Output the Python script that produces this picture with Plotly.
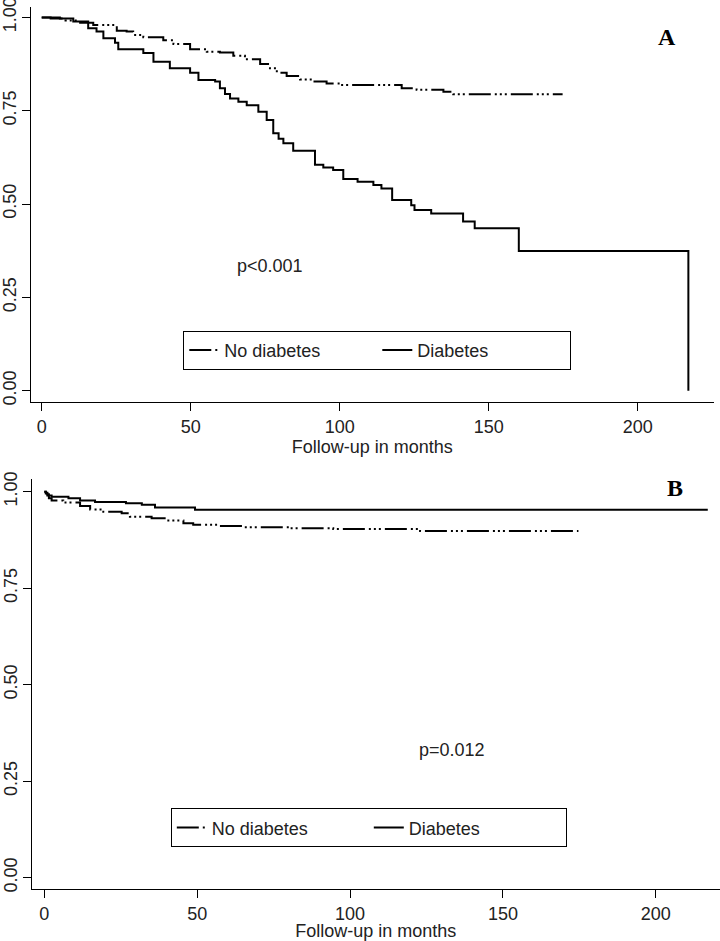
import plotly.graph_objects as go

# ---------------- Data ----------------
# Panel A
a_nodm_t = [0, 3, 8, 12.9, 17.3, 25.2, 28.5, 30.7, 34.1, 40.8, 44.2, 49.8, 55.4, 59.8,
            64.3, 68.2, 73.3, 76.6, 78.9, 82.2, 86.7, 91.1, 95.6, 100.1, 120.8, 125.8,
            134.8, 138.1, 174.8]
a_nodm_s = [1.0, 0.997, 0.992, 0.986, 0.980, 0.964, 0.962, 0.953, 0.947, 0.939, 0.929,
            0.915, 0.908, 0.906, 0.897, 0.888, 0.875, 0.864, 0.852, 0.843, 0.834, 0.828,
            0.823, 0.819, 0.810, 0.806, 0.801, 0.794, 0.794]

a_dm_t = [0, 6.1, 10.6, 15.6, 18.4, 20.7, 24.6, 25.7, 34.1, 37.5, 43.0, 49.8, 52.6, 58.2,
          59.8, 61.5, 63.2, 66.0, 68.8, 72.7, 75.5, 77.7, 79.5, 81.1, 84.4, 91.7, 94.5,
          97.8, 101.2, 106.0, 111.3, 114.0, 117.6, 124.0, 125.1, 130.7, 141.4, 145.3,
          160.1, 217.0]
a_dm_s = [1.0, 0.997, 0.989, 0.971, 0.962, 0.944, 0.932, 0.915, 0.905, 0.881, 0.864,
          0.852, 0.832, 0.828, 0.810, 0.795, 0.783, 0.774, 0.765, 0.747, 0.725, 0.690,
          0.675, 0.663, 0.643, 0.605, 0.598, 0.591, 0.567, 0.560, 0.551, 0.542, 0.511,
          0.497, 0.484, 0.475, 0.453, 0.435, 0.374, 0.0]

# Panel B
b_nodm_t = [0, 0.5, 1, 1.5, 2.4, 6.2, 11.7, 15.0, 19.3, 25.3, 28.0, 35.1, 40.0, 45.5,
            48.7, 57.0, 65.1, 80.0, 94.5, 122.9, 174.7]
b_nodm_s = [1.0, 0.995, 0.990, 0.983, 0.977, 0.972, 0.963, 0.954, 0.948, 0.944, 0.935,
            0.931, 0.925, 0.918, 0.914, 0.911, 0.908, 0.905, 0.903, 0.898, 0.898]

b_dm_t = [0, 0.5, 1, 1.5, 2.4, 7.9, 11.7, 16.6, 26.7, 31.9, 36.2, 49.3, 217.0]
b_dm_s = [1.0, 0.997, 0.993, 0.990, 0.987, 0.983, 0.977, 0.973, 0.970, 0.966, 0.959,
          0.953, 0.953]

x_ticks = [0, 50, 100, 150, 200]
y_ticks = [0, 0.25, 0.5, 0.75, 1.0]
y_tick_text = ["0.00", "0.25", "0.50", "0.75", "1.00"]
series_names = ["No diabetes", "Diabetes"]
x_title = "Follow-up in months"

# ---------------- Figure ----------------
FONT = "Liberation Sans, Arial, sans-serif"
DASH = "22px,4px,2px,3px,2px,3px,2px,4px"

fig = go.Figure()

fig.add_trace(go.Scatter(x=a_nodm_t, y=a_nodm_s, mode="lines", line_shape="hv",
                         name=series_names[0], line=dict(color="black", width=2, dash=DASH),
                         xaxis="x", yaxis="y", legend="legend"))
fig.add_trace(go.Scatter(x=a_dm_t, y=a_dm_s, mode="lines", line_shape="hv",
                         name=series_names[1], line=dict(color="black", width=2),
                         xaxis="x", yaxis="y", legend="legend"))
fig.add_trace(go.Scatter(x=b_nodm_t, y=b_nodm_s, mode="lines", line_shape="hv",
                         name=series_names[0], line=dict(color="black", width=2, dash=DASH),
                         xaxis="x2", yaxis="y2", legend="legend2"))
fig.add_trace(go.Scatter(x=b_dm_t, y=b_dm_s, mode="lines", line_shape="hv",
                         name=series_names[1], line=dict(color="black", width=2),
                         xaxis="x2", yaxis="y2", legend="legend2"))

W, H = 720, 941

def xdom(l, r):
    return [l / W, r / W]

def ydom(top, bottom):
    return [1 - bottom / H, 1 - top / H]

axis_common = dict(showgrid=False, zeroline=False, showline=True, linecolor="black",
                   linewidth=1.3, ticks="outside", ticklen=8, tickwidth=1.2,
                   tickcolor="black", automargin=False, ticklabeloverflow="allow",
                   tickfont=dict(family=FONT, size=18, color="#222"))

fig.update_layout(
    width=W, height=H,
    paper_bgcolor="white", plot_bgcolor="white",
    margin=dict(l=0, r=0, t=0, b=0),
    font=dict(family=FONT, size=18, color="black"),
    xaxis=dict(domain=xdom(30.7, 714), range=[-3.69, 225.6], anchor="y",
               tickvals=x_ticks, title=dict(text=x_title, standoff=1,
                                            font=dict(family=FONT, size=18, color="#222")),
               **axis_common),
    yaxis=dict(domain=ydom(7, 402.3), range=[-0.0311, 1.0279], anchor="x",
               tickvals=y_ticks, ticktext=y_tick_text, tickangle=-90,
               ticklabelstandoff=-2, **axis_common),
    xaxis2=dict(domain=xdom(31.7, 720), range=[-4.12, 221.0], anchor="y2",
                tickvals=x_ticks, title=dict(text=x_title, standoff=2,
                                             font=dict(family=FONT, size=18, color="#222")),
                **axis_common),
    yaxis2=dict(domain=ydom(479.3, 889.3), range=[-0.030, 1.032], anchor="x2",
                tickvals=y_ticks, ticktext=y_tick_text, tickangle=-90,
                ticklabelstandoff=-2, **axis_common),
    legend=dict(x=183.3 / W, y=1 - 330.7 / H, xanchor="left", yanchor="top",
                orientation="h", bordercolor="black", borderwidth=1, bgcolor="white",
                font=dict(family=FONT, size=18, color="#222"),
                entrywidth=148, entrywidthmode="pixels"),
    legend2=dict(x=170.8 / W, y=1 - 808.3 / H, xanchor="left", yanchor="top",
                 orientation="h", bordercolor="black", borderwidth=1, bgcolor="white",
                 font=dict(family=FONT, size=18, color="#222"),
                 entrywidth=152, entrywidthmode="pixels"),
    annotations=[
        dict(text="p<0.001", x=76.6, y=0.334, xref="x", yref="y", showarrow=False,
             font=dict(family=FONT, size=18, color="#222")),
        dict(text="p=0.012", x=133.4, y=0.331, xref="x2", yref="y2", showarrow=False,
             font=dict(family=FONT, size=18, color="#222")),
        dict(text="<b>A</b>", x=209.7, y=0.948, xref="x", yref="y", showarrow=False,
             font=dict(family="Liberation Serif, Times New Roman, serif", size=24,
                       color="black")),
        dict(text="<b>B</b>", x=206.3, y=1.009, xref="x2", yref="y2", showarrow=False,
             font=dict(family="Liberation Serif, Times New Roman, serif", size=24,
                       color="black")),
    ],
)

fig.write_html(
    "out.html",
    config={"displayModeBar": False},
    post_script="document.body.style.margin='0';document.body.style.overflow='hidden';",
)
